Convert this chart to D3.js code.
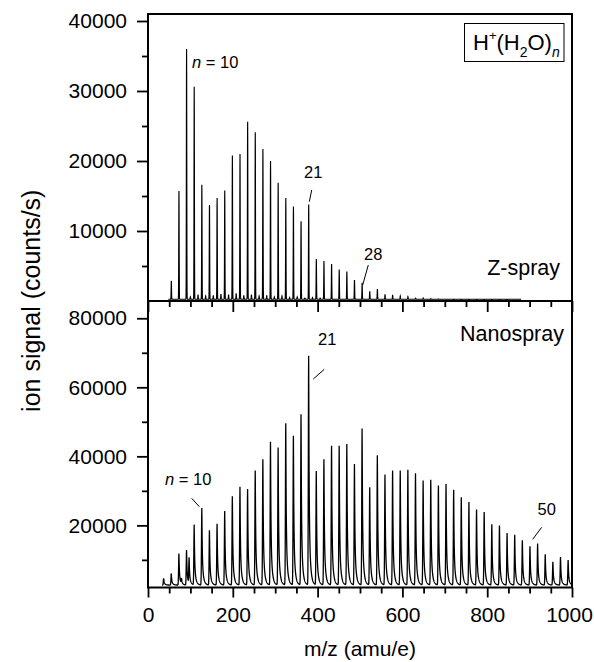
<!DOCTYPE html>
<html><head><meta charset="utf-8">
<script src="https://cdn.jsdelivr.net/npm/d3@7"></script>
<style>
html,body{margin:0;padding:0;background:#fff;}
svg{display:block;font-family:Arial,"Liberation Sans",Helvetica,sans-serif;}
</style></head><body>
<svg id="chart" width="594" height="662"></svg>
<script>
// ---- data (cluster size n -> m/z = 18n+1) ----
const topN = [3,4,5,6,7,8,9,10,11,12,13,14,15,16,17,18,19,20,21,22,23,24,25,26,27,28,29,30,31,32,33,34,35,36,37,38,39,40,41,42,43,44,45,46,47];
const topValues = [2900,15700,36000,30600,16600,13700,14700,15800,20800,21000,25600,24100,21700,20000,16900,14700,13500,11400,13800,6000,5700,5300,4500,4200,3000,2600,1400,1700,950,860,720,620,400,430,330,290,240,200,170,150,140,120,100,90,80];
const topMinorMz = [100,118,136,154,172,190,208,226,244,262,280,298,316,334,352,370,388,406];
const topMinorValues = [600,900,700,800,1000,900,1100,800,900,700,800,600,700,500,600,400,500,400];

const botN = [2,3,4,5,6,7,8,9,10,11,12,13,14,15,16,17,18,19,20,21,22,23,24,25,26,27,28,29,30,31,32,33,34,35,36,37,38,39,40,41,42,43,44,45,46,47,48,49,50,51,52,53,54,55];
const botValues = [4700,6100,11900,12900,20300,25200,18700,20600,24300,28600,31400,30700,36100,39400,44500,42800,49900,46200,52500,69600,35900,39400,43300,43300,43800,38000,48400,31200,40600,34900,36100,36100,36300,35300,33200,33400,31700,32200,30500,28300,26900,24700,24000,20400,20100,17900,17400,15800,14000,14800,11700,9500,10900,10000];
const botExtraMz = [79,97];
const botExtraValues = [4200,10200];

const xMajor = [0,200,400,600,800,1000];
const xMinor = [50,100,150,250,300,350,450,500,550,650,700,750,850,900,950];
const yTopMajor = [10000,20000,30000,40000];
const yTopMinor = [5000,15000,25000,35000];
const yBotMajor = [20000,40000,60000,80000];
const yBotMinor = [10000,30000,50000,70000];

// ---- layout ----
const L = 148, R = 572, T = 14, MID = 301, B = 587.5;
const svg = d3.select("#chart");
const x = d3.scaleLinear().domain([0,1000]).range([L,R]);
const yT = d3.scaleLinear().domain([0,41000]).range([MID,T]);
const yB = d3.scaleLinear().domain([2000,85000]).range([B,MID]);
const mz = n => 18*n + 1;

const defs = svg.append("defs");
defs.append("clipPath").attr("id","clipT").append("rect").attr("x",L).attr("y",T).attr("width",R-L).attr("height",MID-T);
defs.append("clipPath").attr("id","clipB").append("rect").attr("x",L).attr("y",MID).attr("width",R-L).attr("height",B-MID);

// ---- spectra (sum of peak profiles) ----
function buildSpectrum(peaks, from, to, step, base, prof, wl, wr){
  const pts = [];
  for(let m=from; m<=to+1e-9; m+=step){
    let v = base;
    for(const p of peaks){
      const d = m - p[0];
      if(d < -wl || d > wr) continue;
      v += (p[1]-base) * prof(d);
    }
    pts.push([m, v]);
  }
  return pts;
}
const topPeaks = topN.map((n,i)=>[mz(n), topValues[i]]).concat(topMinorMz.map((m,i)=>[m, topMinorValues[i]]));
const botPeaks = botN.map((n,i)=>[mz(n), botValues[i]]).concat(botExtraMz.map((m,i)=>[m, botExtraValues[i]]));
const topProf = d => Math.exp(-0.5*(d/0.45)*(d/0.45));
const botProf = d => d < 0 ? Math.exp(-0.5*(d/0.8)*(d/0.8)) : 0.62*Math.exp(-d/0.9) + 0.38*Math.exp(-d/3.2);
const topSpec = buildSpectrum(topPeaks, 48, 880, 0.2, 250, topProf, 3, 3);
const botSpec = buildSpectrum(botPeaks, 33, 1000, 0.3, 2700, botProf, 4, 25);

svg.append("path").datum(topSpec).attr("clip-path","url(#clipT)")
  .attr("fill","none").attr("stroke","#000").attr("stroke-width",1.15)
  .attr("d", d3.line().x(d=>x(d[0])).y(d=>yT(d[1])));
svg.append("path").datum(botSpec).attr("clip-path","url(#clipB)")
  .attr("fill","none").attr("stroke","#000").attr("stroke-width",1.3)
  .attr("d", d3.line().x(d=>x(d[0])).y(d=>yB(d[1])));

// ---- axes ----
const fs = 21;
function styleAxis(g){
  g.select(".domain").remove();
  g.selectAll(".tick line").attr("stroke","#000").attr("stroke-width",1.8);
  g.selectAll(".tick text").attr("fill","#000").style("font-size",fs+"px").style("font-family","Arial, 'Liberation Sans', sans-serif");
}
svg.append("g").attr("transform",`translate(${L},0)`).call(d3.axisLeft(yT).tickValues(yTopMajor).tickSize(11).tickPadding(10).tickFormat(d3.format("d"))).call(styleAxis);
svg.append("g").attr("transform",`translate(${L},0)`).call(d3.axisLeft(yT).tickValues(yTopMinor).tickSize(6).tickFormat("")).call(styleAxis);
svg.append("g").attr("transform",`translate(${L},0)`).call(d3.axisLeft(yB).tickValues(yBotMajor).tickSize(11).tickPadding(10).tickFormat(d3.format("d"))).call(styleAxis);
svg.append("g").attr("transform",`translate(${L},0)`).call(d3.axisLeft(yB).tickValues(yBotMinor).tickSize(6).tickFormat("")).call(styleAxis);
svg.append("g").attr("transform",`translate(0,${MID})`).call(d3.axisBottom(x).tickValues(xMajor).tickSize(11).tickFormat("")).call(styleAxis);
svg.append("g").attr("transform",`translate(0,${MID})`).call(d3.axisBottom(x).tickValues(xMinor).tickSize(6).tickFormat("")).call(styleAxis);
const xAx = svg.append("g").attr("transform",`translate(0,${B})`).call(d3.axisBottom(x).tickValues(xMajor).tickSize(10).tickPadding(10).tickFormat(d3.format("d"))).call(styleAxis);
xAx.selectAll(".tick text").filter(d=>d===1000).attr("dx",-3);
svg.append("g").attr("transform",`translate(0,${B})`).call(d3.axisBottom(x).tickValues(xMinor).tickSize(6).tickFormat("")).call(styleAxis);

// frames
svg.append("rect").attr("x",L).attr("y",T).attr("width",R-L).attr("height",MID-T).attr("fill","none").attr("stroke","#000").attr("stroke-width",2);
svg.append("rect").attr("x",L).attr("y",MID).attr("width",R-L).attr("height",B-MID).attr("fill","none").attr("stroke","#000").attr("stroke-width",2);

// axis titles
svg.append("text").attr("x",(L+R)/2).attr("y",656).attr("text-anchor","middle").style("font-size",fs+"px").text("m/z (amu/e)");
svg.append("text").attr("transform",`translate(40,${(T+B)/2}) rotate(-90)`).attr("text-anchor","middle").style("font-size","25px").text("ion signal (counts/s)");

// panel labels
svg.append("text").attr("x",560).attr("y",275).attr("text-anchor","end").style("font-size","21.5px").text("Z-spray");
svg.append("text").attr("x",564).attr("y",341).attr("text-anchor","end").style("font-size","21.5px").text("Nanospray");

// legend box H+(H2O)n
svg.append("rect").attr("x",464.5).attr("y",23.5).attr("width",99.5).attr("height",38).attr("fill","#fff").attr("stroke","#000").attr("stroke-width",1);
const lg = svg.append("text").attr("x",473).attr("y",50).style("font-size","22px");
lg.append("tspan").text("H");
lg.append("tspan").attr("dy",-10).style("font-size","13px").text("+");
lg.append("tspan").attr("dy",10).text("(H");
lg.append("tspan").attr("dy",7).style("font-size","14px").text("2");
lg.append("tspan").attr("dy",-7).text("O)");
lg.append("tspan").attr("dy",7).style("font-size","14px").style("font-style","italic").text("n");

// annotations
const afs = "16.5px";
function nLabel(xp, yp){
  const t = svg.append("text").attr("x",xp).attr("y",yp).style("font-size",afs);
  t.append("tspan").style("font-style","italic").text("n");
  t.append("tspan").text(" = 10");
}
function label(txt, xp, yp){ svg.append("text").attr("x",xp).attr("y",yp).style("font-size",afs).text(txt); }
function pointer(x1,y1,x2,y2){ svg.append("line").attr("x1",x1).attr("y1",y1).attr("x2",x2).attr("y2",y2).attr("stroke","#000").attr("stroke-width",1); }
nLabel(192, 68);
label("21", 304, 178); pointer(311.7,190,309.3,201.7);
label("28", 364, 260); pointer(368.3,265,362.7,285);
label("21", 318, 345); pointer(324.3,369.3,313.3,379);
nLabel(165, 485); pointer(191.7,498.3,199.3,506.7);
label("50", 537.5, 515); pointer(541.7,527.3,532.7,539.3);
</script>
</body></html>
